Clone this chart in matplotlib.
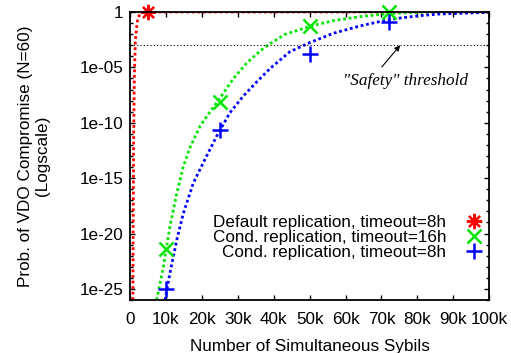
import matplotlib
matplotlib.use("Agg")
import matplotlib.pyplot as plt
from matplotlib.ticker import FixedLocator, FuncFormatter, NullFormatter

# Curves (dotted)
red_x = [800, 900, 1000, 1200, 1500, 2000, 2500, 3000, 4000, 100000]
red_y = [1e-26, 1e-18, 1e-12, 1e-6, 3e-3, 0.13, 0.45, 0.75, 1.0, 1.0]

green_x = [7400, 9300, 11100, 13000, 14800, 16700, 19500, 22300, 25000, 28800,
           32500, 36200, 38500, 43000, 50000, 56600, 64000, 72400, 80700, 100000]
green_y = [1e-26, 1e-23, 4e-20, 4e-17, 1e-14, 6e-13, 5e-11, 1e-9, 1.6e-8, 1e-6,
           2.5e-5, 3e-4, 1.1e-3, 9e-3, 5e-2, 0.166, 0.38, 0.76, 0.95, 1.0]

blue_x = [9740, 11100, 13000, 14800, 17600, 20400, 24100, 27800, 31500, 35300,
          39000, 44500, 50000, 56600, 64000, 72400, 80700, 86300, 100000]
blue_y = [1e-26, 2.5e-24, 2.5e-21, 6e-19, 3.5e-16, 2.5e-14, 6e-12, 8e-10, 2.5e-8, 5e-7,
          8e-6, 2.6e-4, 1.7e-3, 1.2e-2, 5.5e-2, 0.22, 0.47, 0.66, 0.93]

# Simulated points
pts_default_x = [5000]
pts_default_y = [1.0]
pts_cond16_x = [10000, 25000, 50000, 72000]
pts_cond16_y = [4e-22, 8e-9, 5e-2, 1.0]
pts_cond8_x = [10000, 25000, 50000, 72000]
pts_cond8_y = [1e-25, 2.3e-11, 1.6e-4, 0.13]

safety_threshold = 1e-3

labels = ["Default replication, timeout=8h",
          "Cond. replication, timeout=16h",
          "Cond. replication, timeout=8h"]

RED = "#ff0000"
GREEN = "#00e600"
BLUE = "#0000ff"
FS = 12.3

plt.rcParams["font.family"] = ["Liberation Sans", "DejaVu Sans"]

fig = plt.figure(figsize=(5.11, 3.53), dpi=100)
ax = fig.add_axes([0.2544, 0.1501, 0.7031, 0.8159])

dot = (0, (1, 1))
ax.plot(red_x, red_y, color=RED, lw=2, linestyle=dot)
ax.plot(green_x, green_y, color=GREEN, lw=2, linestyle=dot)
ax.plot(blue_x, blue_y, color=BLUE, lw=2, linestyle=dot)

ax.axhline(safety_threshold, color="black", lw=0.8, linestyle=(0, (1, 2)))

h1, = ax.plot(pts_default_x, pts_default_y, linestyle="none", marker=(8, 2, 0),
              ms=11, mew=1.6, color=RED, clip_on=False)
h2, = ax.plot(pts_cond16_x, pts_cond16_y, linestyle="none", marker="x",
              ms=10, mew=1.8, color=GREEN, clip_on=False)
h3, = ax.plot(pts_cond8_x, pts_cond8_y, linestyle="none", marker="+",
              ms=12, mew=1.8, color=BLUE, clip_on=False)

ax.set_yscale("log")
ax.set_xlim(0, 100000)
ax.set_ylim(1e-26, 1)

ax.xaxis.set_major_locator(FixedLocator(range(0, 100001, 10000)))
ax.xaxis.set_major_formatter(FuncFormatter(lambda v, p: "0" if v == 0 else "%dk" % (v / 1000)))
ax.yaxis.set_major_locator(FixedLocator([10.0 ** -e for e in range(0, 26, 5)]))
ax.yaxis.set_major_formatter(FuncFormatter(lambda v, p: "1" if v >= 1 else "%.0e" % v))
ax.yaxis.set_minor_locator(FixedLocator([10.0 ** -e for e in range(0, 27)]))
ax.yaxis.set_minor_formatter(NullFormatter())

ax.tick_params(which="both", direction="in", top=True, right=True, labelsize=FS, width=1)
ax.tick_params(which="major", length=3.5)
ax.tick_params(axis="x", which="major", pad=8.5)
ax.tick_params(axis="y", which="major", pad=5)
ax.tick_params(which="minor", length=2.5)
for s in ax.spines.values():
    s.set_linewidth(1.3)

ax.set_xlabel("Number of Simultaneous Sybils", fontsize=FS, labelpad=9)
ax.set_ylabel("Prob. of VDO Compromise (N=60)\n(Logscale)", fontsize=FS, labelpad=21,
              linespacing=1.15)

# safety threshold note with a slanted arrow
ax.annotate("", xy=(75200, safety_threshold), xytext=(70100, 1.1e-5),
            arrowprops=dict(arrowstyle="-|>", color="black", lw=0.8,
                            mutation_scale=8, shrinkA=0, shrinkB=0))
ax.text(76800, 6e-7, '"Safety" threshold', ha="center", va="center",
        fontsize=FS, style="italic", family=["Liberation Serif", "DejaVu Serif"])

ax.legend([h1, h2, h3], labels, loc="center right", bbox_to_anchor=(0.985, 0.216),
          frameon=False, markerfirst=False, fontsize=FS, handlelength=1.2,
          handletextpad=1.0, labelspacing=0.0, borderaxespad=0, borderpad=0)

fig.savefig("out.png", dpi=100)
